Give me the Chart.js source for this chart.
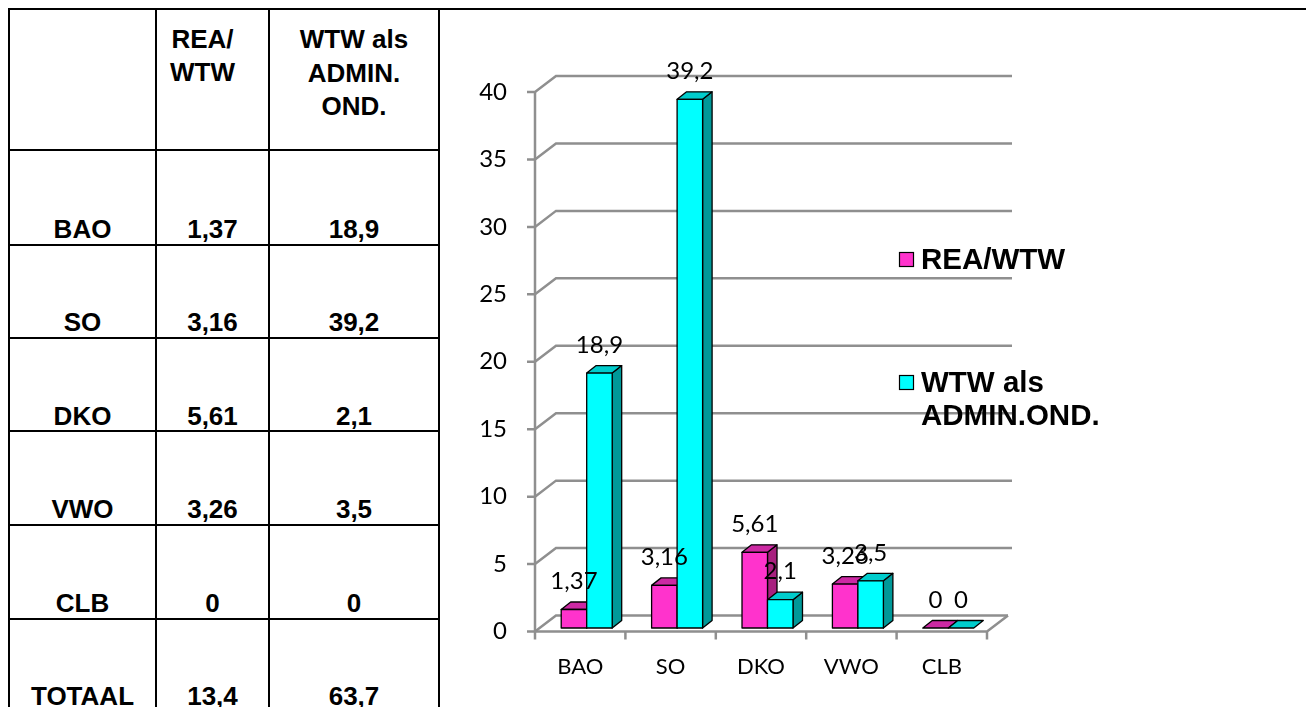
<!DOCTYPE html>
<html>
<head>
<meta charset="utf-8">
<script src="https://cdn.jsdelivr.net/npm/chart.js@4.4.1/dist/chart.umd.min.js"></script>
<style>
  html, body { margin:0; padding:0; background:#fff; width:1306px; height:707px; overflow:hidden; }
  #page { position:relative; width:1306px; height:707px; }
  .hl { position:absolute; height:2px; background:#000; }
  .vl { position:absolute; width:2px; background:#000; }
  .t { position:absolute; font-family:'Liberation Sans', Arial, sans-serif; font-weight:bold; font-size:26px; line-height:26px; text-align:center; color:#000; white-space:nowrap; }
  #wrap { position:absolute; left:441px; top:11px; width:865px; height:696px; }
</style>
</head>
<body>
<div id="page">
  <div id="wrap"><canvas id="c" width="865" height="696" style="width:865px;height:696px;"></canvas></div>
</div>
<script>
// ---------------- data ----------------
const categories = ['BAO', 'SO', 'DKO', 'VWO', 'CLB'];
const reaWtw     = [1.37, 3.16, 5.61, 3.26, 0];
const wtwAdmin   = [18.9, 39.2, 2.1, 3.5, 0];
const totals     = [13.4, 63.7];
const totalLabel = 'TOTAAL';
const seriesNames = ['REA/WTW', 'WTW als ADMIN.OND.'];
const legendLines = [['REA/WTW'], ['WTW als', 'ADMIN.OND.']];
const tableHeader = [['REA/', 'WTW'], ['WTW als', 'ADMIN.', 'OND.']];
const yTicks = [0, 5, 10, 15, 20, 25, 30, 35, 40];

const fmt = v => String(v).replace('.', ',');

// ---------------- table (left) ----------------
const page = document.getElementById('page');
function add(cls, css, text) {
  const d = document.createElement('div');
  d.className = cls;
  Object.assign(d.style, css);
  if (text !== undefined) d.textContent = text;
  page.appendChild(d);
  return d;
}
const rowLines = [150, 244.5, 338, 431, 525, 618.5];
const colEdges = [9, 156, 269, 439];
add('hl', { left: '8px', top: '8px', width: '1298px' });
rowLines.forEach(y => add('hl', { left: '8px', top: (y - 1) + 'px', width: '432px' }));
colEdges.forEach(x => add('vl', { left: (x - 1) + 'px', top: '8px', height: '699px' }));

const ASC = 22.0; // baseline offset inside 26px line box
function cellText(col, baseline, text, shift) {
  const l = colEdges[col], r = colEdges[col + 1];
  add('t', { left: (l + (shift || 0)) + 'px', width: (r - l) + 'px', top: (baseline - ASC) + 'px' }, text);
}
tableHeader[0].forEach((s, i) => cellText(1, 48 + i * 32.5, s, -10));
tableHeader[1].forEach((s, i) => cellText(2, 48 + i * 33.5, s, 0));
const rowBaselines = [238, 331, 424.5, 518, 611.5, 705];
categories.forEach((c, i) => {
  cellText(0, rowBaselines[i], c);
  cellText(1, rowBaselines[i], fmt(reaWtw[i]));
  cellText(2, rowBaselines[i], fmt(wtwAdmin[i]));
});
cellText(0, rowBaselines[5], totalLabel);
cellText(1, rowBaselines[5], fmt(totals[0]));
cellText(2, rowBaselines[5], fmt(totals[1]));

// ---------------- chart ----------------
const wallDepth = { dx: 21, dy: -16 };
const barDepth  = { dx: 9.5, dy: -7.5 };
const barShift  = { dx: 6.5, dy: -3.5 };
const gridColor = '#8f8f8f';
const palette = [
  { front: '#ff33cc', top: '#cc29a3', side: '#a8207f' },
  { front: '#00ffff', top: '#00cccc', side: '#009999' }
];
const labelFont = '24px Lato';

function poly(ctx, pts, fill) {
  ctx.beginPath();
  ctx.moveTo(pts[0][0], pts[0][1]);
  for (let i = 1; i < pts.length; i++) ctx.lineTo(pts[i][0], pts[i][1]);
  ctx.closePath();
  ctx.fillStyle = fill;
  ctx.fill();
  ctx.stroke();
}

const threeD = {
  id: 'threeD',
  beforeDatasetsDraw(chart) {
    const { ctx, chartArea: a, scales: { x, y } } = chart;
    ctx.save();
    ctx.strokeStyle = gridColor;
    ctx.lineWidth = 2.5;
    const backRight = a.right + wallDepth.dx + 4;
    y.ticks.forEach(t => {
      const py = y.getPixelForValue(t.value);
      ctx.beginPath();
      ctx.moveTo(a.left - 8, py);
      ctx.lineTo(a.left, py);
      ctx.lineTo(a.left + wallDepth.dx, py + wallDepth.dy);
      ctx.lineTo(t.value === 0 ? a.right + wallDepth.dx : backRight, py + wallDepth.dy);
      ctx.stroke();
    });
    const y0 = y.getPixelForValue(0);
    const yTop = y.getPixelForValue(y.max);
    ctx.beginPath();
    ctx.moveTo(a.left, yTop);
    ctx.lineTo(a.left, y0);
    ctx.stroke();
    ctx.beginPath();
    ctx.moveTo(a.left, y0);
    ctx.lineTo(a.right, y0);
    ctx.lineTo(a.right + wallDepth.dx, y0 + wallDepth.dy);
    ctx.stroke();
    for (let i = 0; i <= categories.length; i++) {
      const px = x.getPixelForValue(i - 0.5);
      ctx.beginPath();
      ctx.moveTo(px, y0);
      ctx.lineTo(px, y0 + 8);
      ctx.stroke();
    }
    ctx.restore();
  },
  afterDatasetsDraw(chart) {
    const { ctx } = chart;
    const metas = [chart.getDatasetMeta(0), chart.getDatasetMeta(1)];
    ctx.save();
    ctx.strokeStyle = '#000';
    ctx.lineWidth = 1.3;
    ctx.lineJoin = 'round';
    const labels = [];
    for (let i = 0; i < categories.length; i++) {
      metas.forEach((m, d) => {
        const el = m.data[i];
        const p = el.getProps(['x', 'y', 'base', 'width'], true);
        const L = p.x - p.width / 2 + barShift.dx, R = p.x + p.width / 2 + barShift.dx;
        const T = p.y + barShift.dy, B = p.base + barShift.dy;
        const c = palette[d];
        if (B - T > 0.5) {
          poly(ctx, [[R, T], [R + barDepth.dx, T + barDepth.dy], [R + barDepth.dx, B + barDepth.dy], [R, B]], c.side);
        }
        poly(ctx, [[L, T], [R, T], [R + barDepth.dx, T + barDepth.dy], [L + barDepth.dx, T + barDepth.dy]], c.top);
        if (B - T > 0.5) {
          poly(ctx, [[L, T], [R, T], [R, B], [L, B]], c.front);
        }
        const v = chart.data.datasets[d].data[i];
        labels.push({ text: fmt(v), x: p.x + barShift.dx, y: T - 28 });
      });
    }
    ctx.fillStyle = '#000';
    ctx.font = labelFont;
    ctx.textAlign = 'center';
    ctx.textBaseline = 'middle';
    labels.forEach(l => ctx.fillText(l.text, l.x, l.y));
    ctx.restore();
  },
  afterDraw(chart) {
    const { ctx, chartArea: a } = chart;
    ctx.save();
    const sqX = a.right - 88;
    const txtX = a.right - 66;
    const items = [
      { sqY: 241, base: [257.5] },
      { sqY: 364, base: [380.7, 414] }
    ];
    ctx.font = 'bold 29.5px "Liberation Sans", Arial, sans-serif';
    ctx.textAlign = 'left';
    ctx.textBaseline = 'alphabetic';
    items.forEach((it, d) => {
      ctx.fillStyle = palette[d].front;
      ctx.fillRect(sqX, it.sqY, 15, 15);
      ctx.strokeStyle = '#000';
      ctx.lineWidth = 1.2;
      ctx.strokeRect(sqX + 0.5, it.sqY + 0.5, 14, 14);
      ctx.fillStyle = '#000';
      legendLines[d].forEach((s, k) => ctx.fillText(s, txtX, it.base[k]));
    });
    ctx.restore();
  }
};

new Chart(document.getElementById('c'), {
  type: 'bar',
  data: {
    labels: categories,
    datasets: [
      { label: seriesNames[0], data: reaWtw, backgroundColor: 'rgba(0,0,0,0)', borderWidth: 0, barPercentage: 1, categoryPercentage: 0.564 },
      { label: seriesNames[1], data: wtwAdmin, backgroundColor: 'rgba(0,0,0,0)', borderWidth: 0, barPercentage: 1, categoryPercentage: 0.564 }
    ]
  },
  options: {
    responsive: false,
    animation: false,
    devicePixelRatio: 1,
    layout: { padding: { top: 81, right: 319, left: 0, bottom: 0 } },
    plugins: { legend: { display: false }, tooltip: { enabled: false } },
    scales: {
      x: {
        offset: true,
        grid: { display: false, drawTicks: false },
        border: { display: false },
        ticks: { font: { family: 'Lato', size: 22 }, color: '#000', padding: 22, maxRotation: 0, autoSkip: false },
        afterFit(s) { s.height = 75.5; }
      },
      y: {
        min: 0, max: 40,
        grid: { display: false, drawTicks: false },
        border: { display: false },
        ticks: { font: { family: 'Lato', size: 24 }, color: '#000', padding: 28 },
        afterBuildTicks(s) { s.ticks = yTicks.map(v => ({ value: v })); },
        afterFit(s) { s.width = 94; }
      }
    }
  },
  plugins: [threeD]
});
</script>
</body>
</html>
